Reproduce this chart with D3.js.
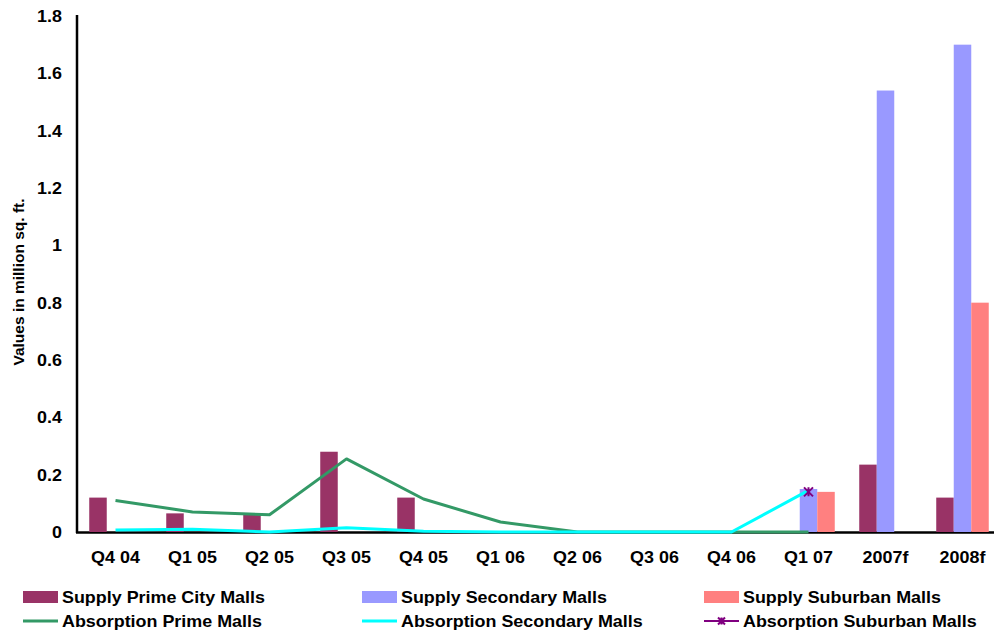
<!DOCTYPE html>
<html>
<head>
<meta charset="utf-8">
<script src="https://cdn.jsdelivr.net/npm/d3@7/dist/d3.min.js"></script>
<style>
  html, body { margin: 0; padding: 0; background: #fff; }
  svg { display: block; }
  text { font-family: "Liberation Sans", Arial, sans-serif; font-weight: bold; fill: #000; }
</style>
</head>
<body>
<svg id="chart" width="994" height="633"></svg>
<script>
// Quarterly and forecast periods
const categories = ["Q4 04", "Q1 05", "Q2 05", "Q3 05", "Q4 05", "Q1 06",
                    "Q2 06", "Q3 06", "Q4 06", "Q1 07", "2007f", "2008f"];

// Supply (million sq. ft.)
const supplyPrime     = [0.12, 0.065, 0.06, 0.28, 0.12, 0, 0, 0, 0, 0, 0.235, 0.12];
const supplySecondary = [0, 0, 0, 0, 0, 0, 0, 0, 0, 0.15, 1.54, 1.7];
const supplySuburban  = [0, 0, 0, 0, 0, 0, 0, 0, 0, 0.14, 0, 0.8];

// Absorption (million sq. ft.); null = no figure for that period
const absorptionPrime     = [0.11, 0.07, 0.06, 0.255, 0.115, 0.035, 0, 0, 0, 0, null, null];
const absorptionSecondary = [0.007, 0.01, 0, 0.015, 0.003, 0, 0, 0, 0, 0.145, null, null];
const absorptionSuburban  = [null, null, null, null, null, null, null, null, null, 0.14, null, null];

const yTicks = [0, 0.2, 0.4, 0.6, 0.8, 1, 1.2, 1.4, 1.6, 1.8];
const yTitle = "Values in million sq. ft.";

const colors = {
  prime: "#993366", secondary: "#9999FF", suburban: "#FF8080",
  absPrime: "#339966", absSecondary: "#00FFFF", absSuburban: "#800080"
};

const svg = d3.select("#chart");
const plotLeft = 77, plotTop = 16, plotBottom = 532, step = 77;
const stretch = 1.12;

const x = d3.scaleBand().domain(categories)
  .range([plotLeft, plotLeft + step * categories.length])
  .paddingInner(0.318).paddingOuter(0.159);
const seriesKeys = ["prime", "secondary", "suburban"];
const xSub = d3.scaleBand().domain(seriesKeys).range([0, x.bandwidth()]);
const y = d3.scaleLinear().domain([0, 1.8]).range([plotBottom, plotTop]);

// helper: horizontally widened text
function label(g, tx, ty, str, anchor) {
  g.append("text")
    .attr("transform", `translate(${tx},${ty}) scale(${stretch},1)`)
    .attr("text-anchor", anchor)
    .attr("font-size", 16)
    .text(str);
}

// y tick labels
const yAxisG = svg.append("g");
yTicks.forEach(t => label(yAxisG, 62, y(t) + 6, d3.format("")(t), "end"));

// y axis title
svg.append("text")
  .attr("transform", `translate(24,${(plotTop + plotBottom) / 2 + 8}) rotate(-90)`)
  .attr("text-anchor", "middle")
  .attr("font-size", 15.5)
  .text(yTitle);

// x category labels
const xAxisG = svg.append("g");
categories.forEach(c => label(xAxisG, x(c) + x.bandwidth() / 2, 563, c, "middle"));

// axis lines
svg.append("line").attr("x1", plotLeft).attr("x2", plotLeft).attr("y1", plotTop - 1).attr("y2", plotBottom + 1)
  .attr("stroke", "#000").attr("stroke-width", 2.5);
svg.append("line").attr("x1", plotLeft - 1).attr("x2", 994).attr("y1", plotBottom + 0.5).attr("y2", plotBottom + 0.5)
  .attr("stroke", "#000").attr("stroke-width", 2.5);

// bars
const barData = categories.map((c, i) => ({
  cat: c, prime: supplyPrime[i], secondary: supplySecondary[i], suburban: supplySuburban[i]
}));
const groups = svg.append("g").selectAll("g").data(barData).join("g")
  .attr("transform", d => `translate(${x(d.cat)},0)`);
groups.selectAll("rect")
  .data(d => seriesKeys.map(k => ({ key: k, value: d[k] })).filter(v => v.value > 0))
  .join("rect")
  .attr("x", d => xSub(d.key))
  .attr("width", xSub.bandwidth())
  .attr("y", d => y(d.value))
  .attr("height", d => y(0) - y(d.value))
  .attr("fill", d => colors[d.key]);

// absorption lines
const cx = c => x(c) + x.bandwidth() / 2;
const lineGen = d3.line()
  .defined(d => d.v !== null)
  .x(d => cx(d.c)).y(d => y(d.v));
const toPts = arr => categories.map((c, i) => ({ c, v: arr[i] }));

svg.append("path").datum(toPts(absorptionPrime))
  .attr("d", lineGen).attr("fill", "none")
  .attr("stroke", colors.absPrime).attr("stroke-width", 3).attr("stroke-linejoin", "round");
svg.append("path").datum(toPts(absorptionSecondary))
  .attr("d", lineGen).attr("fill", "none")
  .attr("stroke", colors.absSecondary).attr("stroke-width", 3).attr("stroke-linejoin", "round");

// star marker
function star(g, px, py, r, color) {
  g.append("path")
    .attr("d", `M${px - r},${py - r}L${px + r},${py + r}M${px - r},${py + r}L${px + r},${py - r}M${px},${py - r}L${px},${py + r}`)
    .attr("stroke", color).attr("stroke-width", 2).attr("fill", "none");
}
const markG = svg.append("g");
toPts(absorptionSuburban).filter(d => d.v !== null)
  .forEach(d => star(markG, cx(d.c), y(d.v), 4.5, colors.absSuburban));

// legend
const legendItems = [
  { name: "Supply Prime City Malls", type: "rect", color: colors.prime },
  { name: "Supply Secondary Malls", type: "rect", color: colors.secondary },
  { name: "Supply Suburban Malls", type: "rect", color: colors.suburban },
  { name: "Absorption Prime Malls", type: "line", color: colors.absPrime },
  { name: "Absorption Secondary Malls", type: "line", color: colors.absSecondary },
  { name: "Absorption Suburban Malls", type: "star", color: colors.absSuburban }
];
const colX = [23, 362, 704];
const rowY = [597, 621];
const legend = svg.append("g");
legendItems.forEach((it, i) => {
  const lx = colX[i % 3], ly = rowY[Math.floor(i / 3)];
  if (it.type === "rect") {
    legend.append("rect").attr("x", lx).attr("y", ly - 6).attr("width", 35).attr("height", 12).attr("fill", it.color);
  } else {
    legend.append("line").attr("x1", lx).attr("x2", lx + 35).attr("y1", ly).attr("y2", ly)
      .attr("stroke", it.color).attr("stroke-width", it.type === "star" ? 2 : 3);
    if (it.type === "star") star(legend, lx + 17.5, ly, 3.5, it.color);
  }
  label(legend, lx + 39, ly + 6, it.name, "start");
});
</script>
</body>
</html>
